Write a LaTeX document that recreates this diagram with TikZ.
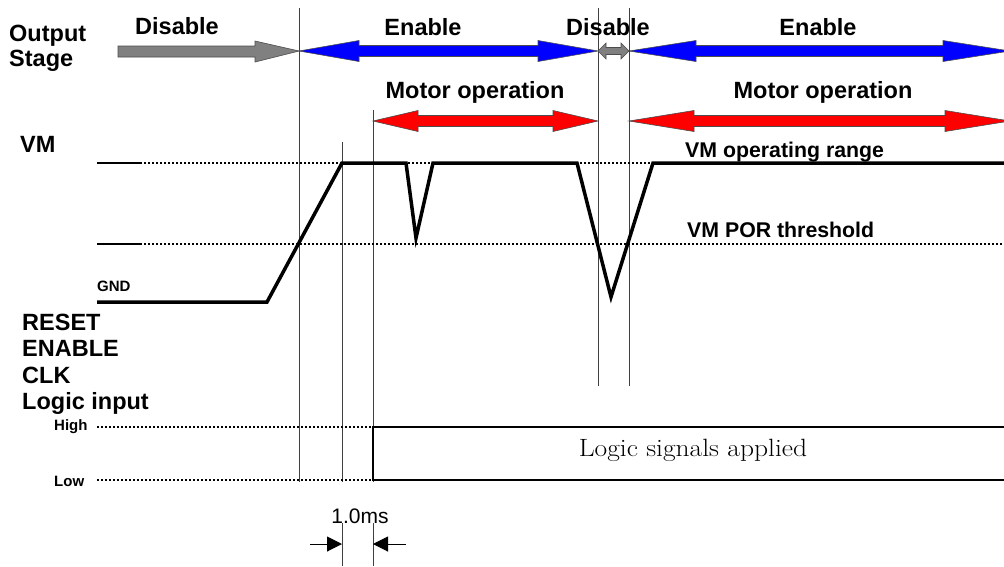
\documentclass[tikz,border=0pt]{standalone}
\usepackage{fontspec}
\usepackage{graphicx}
\newfontfamily\arial{Liberation Sans}
\usetikzlibrary{arrows.meta}
\newcommand\dblarrow[7]{%
  \fill[#7,draw=black!70,line width=0.6pt] (#1,#3) -- ({#1+#4},{#3-#5}) -- ({#1+#4},{#3-#6}) -- ({#2-#4},{#3-#6}) -- ({#2-#4},{#3-#5}) -- (#2,#3)
   -- ({#2-#4},{#3+#5}) -- ({#2-#4},{#3+#6}) -- ({#1+#4},{#3+#6}) -- ({#1+#4},{#3+#5}) -- cycle;}
\begin{document}
\begin{tikzpicture}[x=1pt,y=-1pt,
  lbl/.style={font=\arial\bfseries\fontsize{23.5}{26}\selectfont,inner sep=0pt},
  slbl/.style={font=\arial\bfseries\fontsize{15}{17}\selectfont,inner sep=0pt},
  mlbl/.style={font=\arial\bfseries\fontsize{21.3}{24}\selectfont,inner sep=0pt},
  vline/.style={draw=black!75,line width=1pt},
  dotl/.style={line width=2pt,dash pattern=on 2pt off 2pt},
  sig/.style={line width=3.5pt,line join=miter,line cap=butt},
  lsig/.style={line width=2pt}]
\useasboundingbox (0,0) rectangle (1004,566);
% vertical reference lines
\draw[vline] (299,8) -- (299,482);
\draw[vline] (342,142) -- (342,482);
\draw[vline] (342,523) -- (342,566);
\draw[vline] (373,110) -- (373,482);
\draw[vline] (373,523) -- (373,566);
\draw[vline] (598,8) -- (598,386);
\draw[vline] (629,8) -- (629,386);
% output stage arrows
\fill[black!50,draw=black!70,line width=0.6pt] (118,46) -- (255,46) -- (255,41) -- (299,51) -- (255,62) -- (255,57) -- (118,57) -- cycle;
\dblarrow{299}{598}{51}{60}{10.5}{5.5}{blue}
\dblarrow{598}{629}{51}{8}{8}{3.5}{black!50}
\dblarrow{629}{1010}{51}{67}{10.5}{5.5}{blue}
\dblarrow{373}{598}{121}{45}{10.5}{5.5}{red}
\dblarrow{629}{1010}{121}{65}{10.5}{5.5}{red}
% labels top
\node[lbl,anchor=west] (os1) at (9,36) {Output};
\node[lbl,anchor=west] (os2) at (9,61) {Stage};
\node[lbl] (dis1) at (177,26) {Disable};
\node[lbl] (en1) at (423,27) {Enable};
\node[lbl,anchor=west] (dis2) at (566,27) {Disable};
\node[lbl] (en2) at (818,27) {Enable};
\node[lbl] (mo1) at (475,92) {Motor operation};
\node[lbl] (mo2) at (823,92) {Motor operation};
% VM section
\node[lbl,anchor=west] (vm) at (20,144) {VM};
\draw[line width=2pt] (97,163) -- (140,163);
\draw[dotl] (140,163) -- (1004,163);
\draw[line width=2pt] (97,244) -- (140,244);
\draw[dotl] (140,244) -- (1004,244);
\node[slbl,anchor=west] (gnd) at (97,286) {GND};
\draw[sig] (97,302) -- (267,302) -- (342,163) -- (406,163) -- (416,238) -- (433,163) -- (577,163) -- (611,297) -- (653,163) -- (1004,163);
\node[mlbl,anchor=west] (opr) at (685,152) {VM operating range};
\node[mlbl,anchor=west] (por) at (687,230) {VM POR threshold};
% logic inputs
\node[lbl,anchor=west] (rst) at (22,322) {RESET};
\node[lbl,anchor=west] (ena) at (22,348) {ENABLE};
\node[lbl,anchor=west] (clk) at (22,375) {CLK};
\node[lbl,anchor=west] (lgi) at (22,403) {Logic input};
\node[slbl,anchor=west] (hi) at (54,427) {High};
\node[slbl,anchor=west] (lo) at (54,481) {Low};
\draw[dotl] (97,427) -- (373,427);
\draw[dotl] (97,480) -- (373,480);
\draw[lsig] (1004,427) -- (373,427) -- (373,480) -- (1004,480);
\node[font=\fontsize{25}{28}\selectfont,inner sep=0pt] (lsa) at (693,450) {\scalebox{1.1}[1]{Logic signals applied}};
% 1.0ms dimension
\node[font=\arial\fontsize{21}{24}\selectfont,inner sep=0pt] (ms) at (360,516) {1.0ms};
\coordinate (la) at (310,544);
\coordinate (lb) at (342,544);
\coordinate (ra) at (406,544);
\coordinate (rb) at (373,544);
\draw[line width=1pt,-{Triangle[length=15pt,width=15pt]}] (la) -- (lb);
\draw[line width=1pt,-{Triangle[length=15pt,width=15pt]}] (ra) -- (rb);
\end{tikzpicture}
\end{document}
